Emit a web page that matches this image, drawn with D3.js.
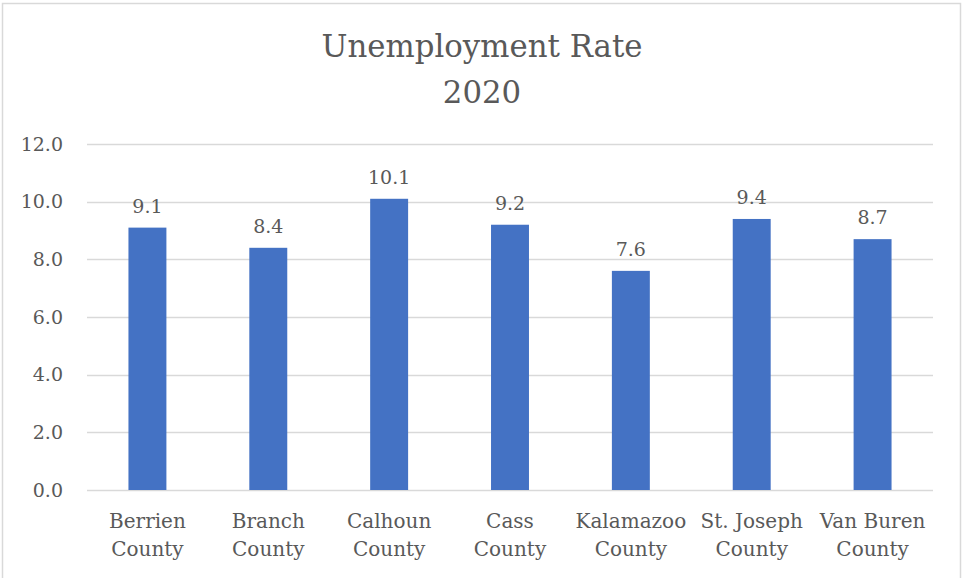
<!DOCTYPE html>
<html>
<head>
<meta charset="utf-8">
<script src="https://cdn.jsdelivr.net/npm/d3@7"></script>
<style>
  html, body { margin: 0; padding: 0; background: #fff; }
  svg { display: block; }
  text { font-family: "DejaVu Serif", serif; fill: #595959; }
</style>
</head>
<body>
<svg id="chart" width="962" height="578"></svg>
<script>
// County unemployment rates, 2020
const counties = ["Berrien County", "Branch County", "Calhoun County", "Cass County",
                  "Kalamazoo County", "St. Joseph County", "Van Buren County"];
const rates = [9.1, 8.4, 10.1, 9.2, 7.6, 9.4, 8.7];
const yTicks = [0, 2, 4, 6, 8, 10, 12];
const titleLines = ["Unemployment Rate", "2020"];

const W = 962, H = 578;
const margin = { left: 87, right: 29, top: 144, bottom: 88 };
const svg = d3.select("#chart");

// chart frame
svg.append("rect")
  .attr("x", 2.5).attr("y", 3.5)
  .attr("width", W - 4).attr("height", H + 10)
  .attr("fill", "none").attr("stroke", "#d9d9d9").attr("stroke-width", 1.5);

const x = d3.scaleBand()
  .domain(counties)
  .range([margin.left, W - margin.right])
  .padding(0);

const y = d3.scaleLinear()
  .domain([0, 12])
  .range([H - margin.bottom, margin.top]);

// title
svg.append("g").selectAll("text")
  .data(titleLines)
  .join("text")
  .attr("x", 482)
  .attr("y", (d, i) => 57 + i * 46)
  .attr("text-anchor", "middle")
  .style("font-size", "30.8px")
  .text(d => d);

// gridlines
svg.append("g").selectAll("line")
  .data(yTicks)
  .join("line")
  .attr("x1", margin.left).attr("x2", W - margin.right)
  .attr("y1", d => Math.round(y(d)) + 0.5).attr("y2", d => Math.round(y(d)) + 0.5)
  .attr("stroke", "#d9d9d9").attr("stroke-width", 1.3);

// y axis labels
const yAxis = d3.axisLeft(y).tickValues(yTicks).tickFormat(d3.format(".1f")).tickSize(0).tickPadding(24);
const yg = svg.append("g").attr("transform", `translate(${margin.left},0)`).call(yAxis);
yg.select(".domain").remove();
yg.selectAll("text").style("font-size", "19px").attr("fill", "#595959").attr("font-family", "DejaVu Serif");

// bars
const barW = x.bandwidth() * 0.314;
svg.append("g").selectAll("rect")
  .data(counties)
  .join("rect")
  .attr("x", d => x(d) + (x.bandwidth() - barW) / 2)
  .attr("width", barW)
  .attr("y", (d, i) => y(rates[i]))
  .attr("height", (d, i) => y(0) - y(rates[i]))
  .attr("fill", "#4472c4");

// value labels
svg.append("g").selectAll("text")
  .data(counties)
  .join("text")
  .attr("x", d => x(d) + x.bandwidth() / 2)
  .attr("y", (d, i) => y(rates[i]) - 15)
  .attr("text-anchor", "middle")
  .style("font-size", "19px")
  .text((d, i) => d3.format(".1f")(rates[i]));

// category labels, two lines each
const cat = svg.append("g").selectAll("text")
  .data(counties)
  .join("text")
  .attr("text-anchor", "middle")
  .style("font-size", "20px");
cat.each(function (d) {
  const parts = d.split(" ");
  const first = parts.slice(0, -1).join(" ");
  const last = parts[parts.length - 1];
  const cx = x(d) + x.bandwidth() / 2;
  const t = d3.select(this);
  t.append("tspan").attr("x", cx).attr("y", 528).text(first);
  t.append("tspan").attr("x", cx).attr("y", 556).text(last);
});
</script>
</body>
</html>
